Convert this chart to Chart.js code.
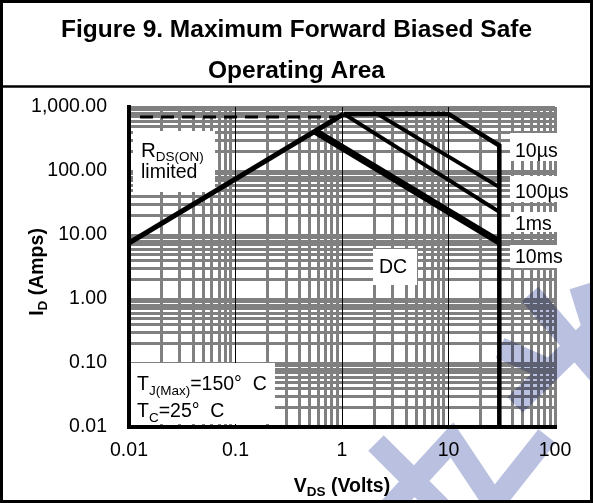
<!DOCTYPE html>
<html>
<head>
<meta charset="utf-8">
<script src="https://cdn.jsdelivr.net/npm/chart.js@4.4.1/dist/chart.umd.min.js"></script>
<style>
  html, body { margin: 0; padding: 0; background: #fff; }
  canvas { display: block; }
</style>
</head>
<body>
<canvas id="soa" width="593" height="503"></canvas>
<script>
// Axis ticks and their printed labels
const xTickValues = [0.01, 0.1, 1, 10, 100];
const xTickLabels = ['0.01', '0.1', '1', '10', '100'];
const yTickValues = [0.01, 0.1, 1, 10, 100, 1000];
const yTickLabels = ['0.01', '0.10', '1.00', '10.00', '100.00', '1,000.00'];

// Safe-operating-area boundaries: V_DS in volts, I_D in amps
const rdsVds = [0.01, 1.04];
const rdsId = [7.5, 780];
const pkgVds = [0.0127, 0.93];
const pkgId = [700, 700];
const t10usVds = [1.04, 10, 30, 30];
const t10usId = [780, 780, 250, 0.01];
const t100usVds = [2.15, 30];
const t100usId = [780, 56];
const t1msVds = [1.04, 30];
const t1msId = [780, 23];
const dcVds = [0.56, 30];
const dcId = [418, 7.8];

const FONT = '"Liberation Sans", Arial, Helvetica, sans-serif';
const GRID_GRAY = '#808080';

const toPoints = (xs, ys) => xs.map((x, i) => ({ x, y: ys[i] }));

// 1..9 x 10^n for every decade between lo and hi
function decadeGrid(lo, hi) {
  const out = [];
  for (let e = Math.round(Math.log10(lo)); e < Math.round(Math.log10(hi)); e++) {
    for (let k = 1; k <= 9; k++) out.push(k * Math.pow(10, e));
  }
  out.push(hi);
  return out;
}
const sameValue = (a, b) => Math.abs(Math.log10(a) - Math.log10(b)) < 1e-6;
function labelFor(values, labels, v) {
  const i = values.findIndex(t => sameValue(t, v));
  return i >= 0 ? labels[i] : '';
}

// Text made of runs with different sizes (for subscripts)
function richText(ctx, runs, x, y, align) {
  let w = 0;
  runs.forEach(r => {
    ctx.font = `${r.bold ? 'bold ' : ''}${r.size}px ${FONT}`;
    r.w = ctx.measureText(r.t).width;
    w += r.w;
  });
  let cx = align === 'center' ? x - w / 2 : (align === 'right' ? x - w : x);
  ctx.textAlign = 'left';
  ctx.textBaseline = 'alphabetic';
  runs.forEach(r => {
    ctx.font = `${r.bold ? 'bold ' : ''}${r.size}px ${FONT}`;
    ctx.fillText(r.t, cx, y + (r.dy || 0));
    cx += r.w;
  });
}

const whiteBoxes = [
  [133, 131, 82, 61],    // R_DS(ON) limited
  [373, 249, 44, 36],    // DC
  [131, 363, 144, 61],   // junction / case temperatures
  [510, 133, 50, 28],    // 10us
  [510, 176, 65, 26],    // 100us
  [510, 212, 50, 20],    // 1ms
  [510, 245, 55, 23]     // 10ms
];

const labelBoxes = {
  id: 'labelBoxes',
  beforeDatasetsDraw(chart) {
    const ctx = chart.ctx;
    ctx.save();
    ctx.fillStyle = '#fff';
    whiteBoxes.forEach(b => ctx.fillRect(b[0], b[1], b[2], b[3]));
    ctx.restore();
  },
  afterDatasetsDraw(chart) {
    const ctx = chart.ctx;
    ctx.save();
    ctx.fillStyle = '#000';
    const big = 19.5, sub = 13.5;
    richText(ctx, [{ t: 'R', size: 20.5 }, { t: 'DS(ON)', size: sub, dy: 4 }], 141, 157);
    richText(ctx, [{ t: 'limited', size: big }], 141, 178);
    richText(ctx, [{ t: 'DC', size: big }], 379, 273);
    richText(ctx, [{ t: 'T', size: big }, { t: 'J(Max)', size: sub, dy: 5 }, { t: '=150°  C', size: big }], 137, 390);
    richText(ctx, [{ t: 'T', size: big }, { t: 'C', size: sub, dy: 5 }, { t: '=25°  C', size: big }], 137, 417);
    richText(ctx, [{ t: '10µs', size: big }], 515, 157);
    richText(ctx, [{ t: '100µs', size: big }], 515, 198);
    richText(ctx, [{ t: '1ms', size: big }], 515, 230);
    richText(ctx, [{ t: '10ms', size: big }], 515, 263);
    ctx.restore();
  }
};

// Frame, heading, axis titles and the pale backdrop strokes
const frameAndTitles = {
  id: 'frameAndTitles',
  beforeDraw(chart) {
    const ctx = chart.ctx;
    ctx.save();
    ctx.fillStyle = '#fff';
    ctx.fillRect(0, 0, chart.width, chart.height);
    ctx.restore();
  },
  afterDraw(chart) {
    const ctx = chart.ctx;
    const area = chart.chartArea;
    ctx.save();
    ctx.fillStyle = '#000';
    ctx.font = `bold 24.5px ${FONT}`;
    ctx.textAlign = 'center';
    ctx.textBaseline = 'alphabetic';
    ctx.fillText('Figure 9. Maximum Forward Biased Safe', chart.width / 2, 37);
    ctx.fillText('Operating Area', chart.width / 2, 78);

    const cx = (area.left + area.right) / 2;
    richText(ctx, [{ t: 'V', size: 19.5, bold: true }, { t: 'DS', size: 13.5, bold: true, dy: 4 },
                   { t: ' (Volts)', size: 19.5, bold: true }], cx, 492, 'center');
    ctx.translate(43, (area.top + area.bottom) / 2 + 5);
    ctx.rotate(-Math.PI / 2);
    richText(ctx, [{ t: 'I', size: 19.5, bold: true }, { t: 'D', size: 13.5, bold: true, dy: 4 },
                   { t: ' (Amps)', size: 19.5, bold: true }], 0, 0, 'center');
    ctx.setTransform(1, 0, 0, 1, 0, 0);

    ctx.strokeStyle = '#000';
    ctx.lineWidth = 3;
    ctx.strokeRect(1.5, 1.5, chart.width - 3, chart.height - 3);
    ctx.lineWidth = 2.5;
    ctx.beginPath();
    ctx.moveTo(0, 86.5);
    ctx.lineTo(chart.width, 86.5);
    ctx.stroke();

    // pale diagonal strokes across the lower right
    const off = document.createElement('canvas');
    off.width = chart.width; off.height = chart.height;
    const o = off.getContext('2d');
    o.strokeStyle = 'rgb(186,192,224)';
    o.lineWidth = 22;
    o.lineCap = 'butt';
    o.lineJoin = 'miter';
    const strokes = [
      [[530, 294], [604, 380]],
      [[515, 405], [604, 318]],
      [[500, 348], [545, 368]],
      [[547, 436], [487, 512]],
      [[580, 286], [600, 350]],
      [[376, 443], [445, 512]],
      [[386, 512], [452, 440], [500, 512]]
    ];
    strokes.forEach(s => {
      o.beginPath();
      o.moveTo(s[0][0], s[0][1]);
      for (let i = 1; i < s.length; i++) o.lineTo(s[i][0], s[i][1]);
      o.stroke();
    });
    ctx.globalCompositeOperation = 'multiply';
    ctx.drawImage(off, 0, 0);
    ctx.restore();
  }
};

const lineStyle = (width, dash) => ({
  showLine: true,
  borderColor: '#000',
  backgroundColor: '#000',
  borderWidth: width,
  borderDash: dash || [],
  borderCapStyle: 'butt',
  borderJoinStyle: 'miter',
  pointRadius: 0,
  fill: false,
  tension: 0
});

new Chart(document.getElementById('soa'), {
  type: 'scatter',
  data: {
    datasets: [
      Object.assign({ label: 'Package limit', data: toPoints(pkgVds, pkgId) }, lineStyle(3, [13, 8])),
      Object.assign({ label: 'RDS(ON) limited', data: toPoints(rdsVds, rdsId) }, lineStyle(5)),
      Object.assign({ label: '10µs', data: toPoints(t10usVds, t10usId) }, lineStyle(4.5)),
      Object.assign({ label: '100µs', data: toPoints(t100usVds, t100usId) }, lineStyle(4)),
      Object.assign({ label: '1ms', data: toPoints(t1msVds, t1msId) }, lineStyle(4)),
      Object.assign({ label: 'DC', data: toPoints(dcVds, dcId) }, lineStyle(7))
    ]
  },
  options: {
    responsive: false,
    animation: false,
    devicePixelRatio: 1,
    layout: { padding: { top: 107, right: 38, left: 0, bottom: 0 } },
    plugins: { legend: { display: false }, tooltip: { enabled: false }, title: { display: false } },
    scales: {
      x: {
        type: 'logarithmic',
        min: 0.01,
        max: 100,
        afterBuildTicks: s => { s.ticks = decadeGrid(0.01, 100).map(v => ({ value: v })); },
        afterFit: s => { s.height = 76; },
        ticks: {
          autoSkip: false,
          maxRotation: 0,
          padding: 12,
          color: '#000',
          font: { family: FONT, size: 19.5 },
          callback: v => labelFor(xTickValues, xTickLabels, v)
        },
        grid: {
          drawTicks: false,
          z: -1,
          color: c => {
            const v = c.tick ? c.tick.value : 0;
            return (sameValue(v, 0.1) || sameValue(v, 1) || sameValue(v, 10)) ? '#000' : GRID_GRAY;
          },
          lineWidth: c => {
            const v = c.tick ? c.tick.value : 0;
            return (sameValue(v, 0.1) || sameValue(v, 1) || sameValue(v, 10)) ? 1 : 3;
          }
        },
        border: { display: true, color: '#000', width: 4 }
      },
      y: {
        type: 'logarithmic',
        min: 0.01,
        max: 1000,
        afterBuildTicks: s => { s.ticks = decadeGrid(0.01, 1000).map(v => ({ value: v })); },
        afterFit: s => { s.width = 129; },
        ticks: {
          autoSkip: false,
          padding: 22,
          color: '#000',
          font: { family: FONT, size: 19.5 },
          callback: v => labelFor(yTickValues, yTickLabels, v)
        },
        grid: { drawTicks: false, z: -2, color: GRID_GRAY, lineWidth: 3 },
        border: { display: true, color: '#000', width: 4 }
      }
    }
  },
  plugins: [labelBoxes, frameAndTitles]
});
</script>
</body>
</html>
